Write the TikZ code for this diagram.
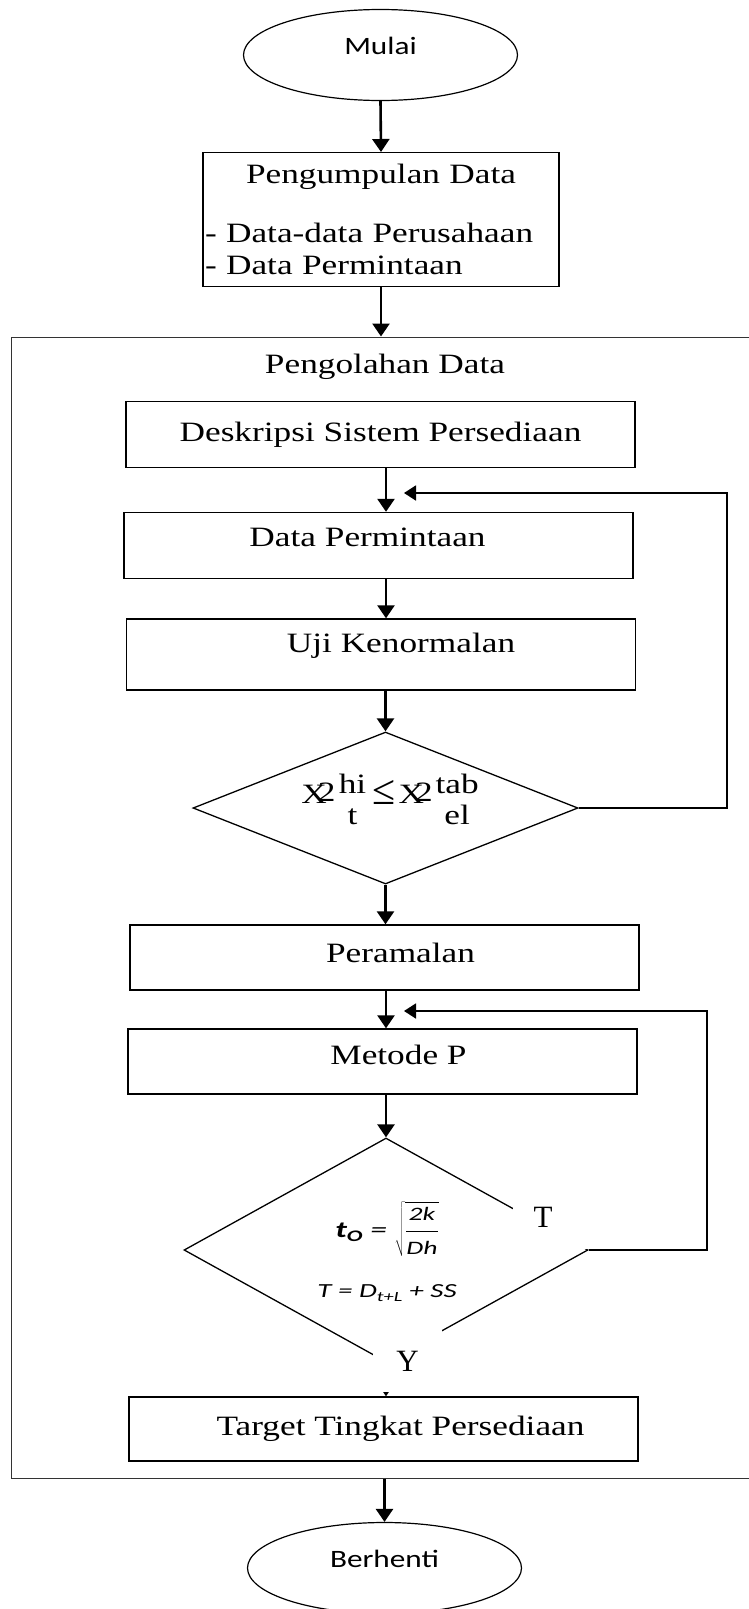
\documentclass[tikz,border=0pt]{standalone}
\usepackage{graphicx}
\usepackage{fontspec}
\setmainfont[FakeStretch=1.26]{Liberation Serif}
\newfontfamily\plainserif{Liberation Serif}
\newfontfamily\termfont[FakeStretch=1.25]{Carlito}
\newfontfamily\formfont[FakeStretch=1.45]{Carlito}
\usetikzlibrary{shapes.geometric,arrows.meta}

% broken chi-square text of the test
\newcommand{\chipart}[4]{%
  X\kern-9pt\raisebox{2pt}{2}\kern#4%
  \makebox[#3][c]{\raisebox{10pt}{#1}}%
  \kern-#3%
  \makebox[#3][c]{\raisebox{-21pt}{#2}}}

\begin{document}
\begin{tikzpicture}[x=1pt,y=-1pt,
		every node/.style={font=\fontsize{28}{32}\selectfont},
		box/.style={draw, line width=1.4pt, minimum width=509pt,
			minimum height=66pt, inner sep=0pt},
		term/.style={ellipse, draw, line width=1.2pt, minimum width=274pt,
			minimum height=91pt, inner sep=0pt, text depth=18pt,
			font=\termfont\fontsize{25}{25}\selectfont},
		decide/.style={diamond, draw, line width=1.3pt, inner sep=0pt},
		arr/.style={-{Triangle[width=17pt,length=13pt]}, line width=2.6pt},
		loopline/.style={-{Triangle[width=15pt,length=12pt]}, line width=1.8pt},
		tag/.style={fill=white, inner sep=0pt,
			font=\plainserif\fontsize{31}{31}\selectfont}]
		\useasboundingbox (0,0) rectangle (748,1609);

		% create the nodes.
		\node (mulai) [term] at (380.5,55) {Mulai};
		\node (kumpul) [draw, line width=1.4pt, text width=352pt, align=left,
			inner xsep=2pt, inner ysep=0pt, minimum height=134pt, anchor=north]
			at (381,152) {\makebox[\linewidth][c]{Pengumpulan Data}\\[27pt]
			- Data-data Perusahaan\\ - Data Permintaan};
		\node (olah) [draw=black!80, line width=1pt, minimum width=749pt,
			minimum height=1141pt, inner sep=0pt] at (385.5,907.5) {};
		\node (olahtitle) at (385,367) {Pengolahan Data};
		\node (desk) [box] at (380.5,434.5) {Deskripsi Sistem Persediaan};
		\node (minta) [box, text depth=16pt] at (378.5,545.5) {Data Permintaan\hspace*{22pt}};
		\node (uji) [box, minimum height=71pt, text depth=24pt] at (381,654.5) {\hspace*{40pt}Uji Kenormalan};
		\node (dec1) [decide, minimum width=385pt, minimum height=152pt] at (385.5,808) {};
		\node (chi) [anchor=base, inner sep=0pt] at (390,803)
			{\chipart{hi}{t}{28pt}{3pt}\kern6pt\raisebox{-1pt}{\scalebox{1.5}{\plainserif ≤}}\kern3pt\chipart{tab}{el}{43pt}{3pt}};
		\node (ramal) [box, minimum height=65pt, text depth=10pt] at (384.5,957.5) {\hspace*{32pt}Peramalan};
		\node (metode) [box, minimum height=65pt, text depth=14pt] at (382.5,1061.5) {\hspace*{32pt}Metode P};
		\node (dec2) [decide, minimum width=404pt, minimum height=224pt] at (386,1250) {};
		\node (eoq) at (387,1229) {\formfont\itshape\fontsize{23}{23}\selectfont
			\textbf{t\textsubscript{O}} = $\displaystyle\sqrt{\frac{\hbox{\formfont\itshape\fontsize{19}{19}\selectfont 2k}}%
			{\hbox{\formfont\itshape\fontsize{19}{19}\selectfont Dh}}}$};
		\node (tplus) at (387,1293) {\formfont\itshape\fontsize{20}{20}\selectfont
			T = D\textsubscript{t+L} + SS};
		\node (target) [box, minimum height=64pt] at (383.5,1429) {\hspace*{34pt}Target Tingkat Persediaan};
		\node (berhenti) [term] at (384.5,1568) {Berhenti};

		\coordinate (axis) at (386,0);
		\coordinate (loopA) at (727,493);
		\coordinate (entryA) at (404,493);
		\coordinate (loopB) at (707,1011);
		\coordinate (entryB) at (404,1011);

		% connect the nodes
		\draw[arr] (mulai.south) -- (kumpul.north);
		\draw[arr] (kumpul.south) -- (kumpul.south |- olah.north);
		\draw[arr] (desk.south -| axis) -- (minta.north -| axis);
		\draw[arr] (minta.south -| axis) -- (uji.north -| axis);
		\draw[arr] (uji.south -| dec1.north) -- (dec1.north);
		\draw[arr] (dec1.south) -- (ramal.north -| dec1.south);
		\draw[arr] (ramal.south -| axis) -- (metode.north -| axis);
		\draw[arr] (metode.south -| dec2.north) -- (dec2.north);
		\draw[arr] (dec2.south) -- (target.north -| dec2.south);
		\draw[arr] (olah.south -| berhenti.north) -- (berhenti.north);
		\draw[loopline] (dec1.east) -| (loopA) -- (entryA);
		\draw[loopline] (dec2.east) -| (loopB) -- (entryB);

		% answers on the second test
		\node (tlbl) [tag, minimum width=77pt, minimum height=64pt] at (551.5,1217) {T\hspace*{17pt}};
		\node (ylbl) [tag, minimum width=69pt, minimum height=62pt] at (407.5,1361) {Y};
	\end{tikzpicture}
\end{document}
